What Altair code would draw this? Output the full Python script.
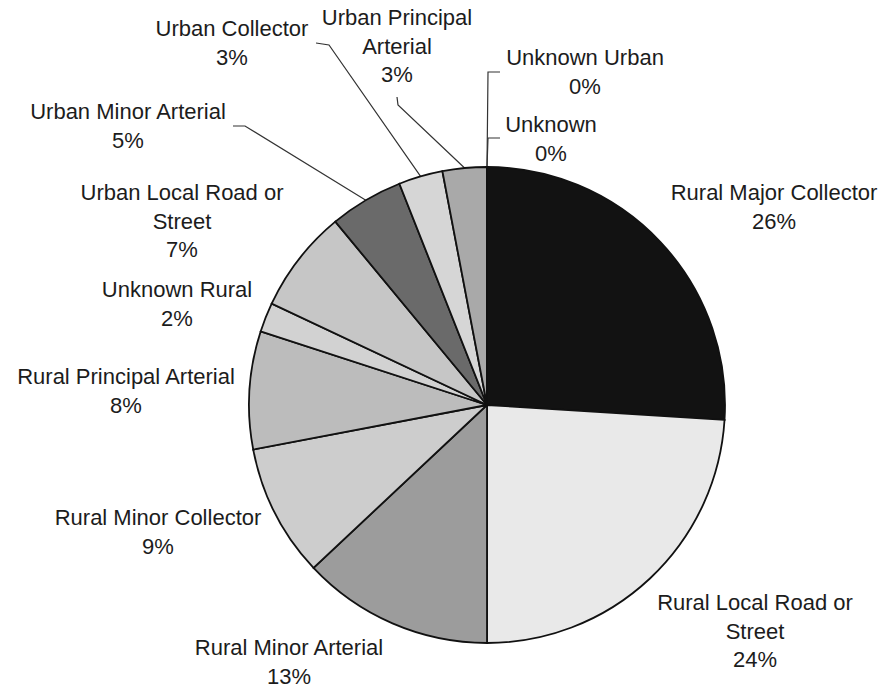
import math
import altair as alt
import pandas as pd

# ---- data ----
categories = [
    "Rural Major Collector", "Rural Local Road or Street", "Rural Minor Arterial",
    "Rural Minor Collector", "Rural Principal Arterial", "Unknown Rural",
    "Urban Local Road or Street", "Urban Minor Arterial", "Urban Collector",
    "Urban Principal Arterial", "Unknown Urban", "Unknown",
]
shares = [26, 24, 13, 9, 8, 2, 7, 5, 3, 3, 0, 0]

# how each category name is wrapped in its label
wrapped = {
    "Rural Local Road or Street": ["Rural Local Road or", "Street"],
    "Urban Local Road or Street": ["Urban Local Road or", "Street"],
    "Urban Principal Arterial": ["Urban Principal", "Arterial"],
}

# ---- styling / layout ----
fills = ["#121212", "#e9e9e9", "#9c9c9c", "#cdcdcd", "#bcbcbc", "#d2d2d2",
         "#c6c6c6", "#6a6a6a", "#d6d6d6", "#a9a9a9", "#ffffff", "#ffffff"]
W, H = 884, 691
CX, CY, R = 487, 405, 238
FONT = "Liberation Sans"
FS = 22
LH = 28.5

# label anchors: centre of the first text line (layout)
label_xy = {
    "Rural Major Collector": (774, 193),
    "Rural Local Road or Street": (755, 603),
    "Rural Minor Arterial": (289, 648),
    "Rural Minor Collector": (158, 518),
    "Rural Principal Arterial": (126, 377),
    "Unknown Rural": (177, 290),
    "Urban Local Road or Street": (182, 193),
    "Urban Minor Arterial": (128, 112),
    "Urban Collector": (232, 29),
    "Urban Principal Arterial": (397, 18),
    "Unknown Urban": (585, 58),
    "Unknown": (551, 125),
}
# leader line start + elbow (layout); the end is on the slice edge from the data
leader_pts = {
    "Urban Minor Arterial": [(233, 126), (245, 126)],
    "Urban Collector": [(316, 43), (329, 45)],
    "Urban Principal Arterial": [(397, 97), (398, 105)],
    "Unknown Urban": [(500, 72), (488, 72)],
    "Unknown": [(500, 138), (488, 138)],
}

total = sum(shares)
pie_df = pd.DataFrame({"category": categories, "share": shares,
                       "order": list(range(len(categories)))})

lab_rows = []
for c, s in zip(categories, shares):
    lines = wrapped.get(c, [c]) + [f"{s}%"]
    x, y = label_xy[c]
    lab_rows.append({"category": c, "text": "\n".join(lines), "x": x, "y": y})
lab_df = pd.DataFrame(lab_rows)

line_rows = []
cum = 0
for c, s in zip(categories, shares):
    a = 2 * math.pi * (cum + s / 2) / total
    cum += s
    if c in leader_pts:
        pts = leader_pts[c] + [(CX + R * math.sin(a), CY - R * math.cos(a))]
        for i, (px, py) in enumerate(pts):
            line_rows.append({"category": c, "i": i, "x": px, "y": py})
line_df = pd.DataFrame(line_rows)

xs = alt.Scale(domain=[0, W], nice=False, zero=False)
ys = alt.Scale(domain=[0, H], nice=False, zero=False, reverse=True)

pie = alt.Chart(pie_df).mark_arc(
    outerRadius=R, stroke="#111111", strokeWidth=1.8
).encode(
    theta=alt.Theta("share:Q", stack=True),
    order=alt.Order("order:Q"),
    color=alt.Color("category:N", scale=alt.Scale(domain=categories, range=fills), legend=None),
    x=alt.value(CX),
    y=alt.value(CY),
)

leaders = alt.Chart(line_df).mark_line(color="#333333", strokeWidth=1.2).encode(
    x=alt.X("x:Q", scale=xs, axis=None),
    y=alt.Y("y:Q", scale=ys, axis=None),
    detail="category:N",
    order="i:Q",
)

labels = alt.Chart(lab_df).mark_text(
    font=FONT, fontSize=FS, lineHeight=LH, lineBreak="\n",
    align="center", baseline="middle", color="#1c1c1c",
).encode(
    x=alt.X("x:Q", scale=xs, axis=None),
    y=alt.Y("y:Q", scale=ys, axis=None),
    text="text:N",
)

chart = alt.layer(leaders, pie, labels).properties(
    width=W, height=H, padding=0, autosize=alt.AutoSizeParams(type="none"),
    background="white",
).configure_view(stroke=None)

chart.save("out.html", embed_options={"renderer": "svg", "actions": False})
